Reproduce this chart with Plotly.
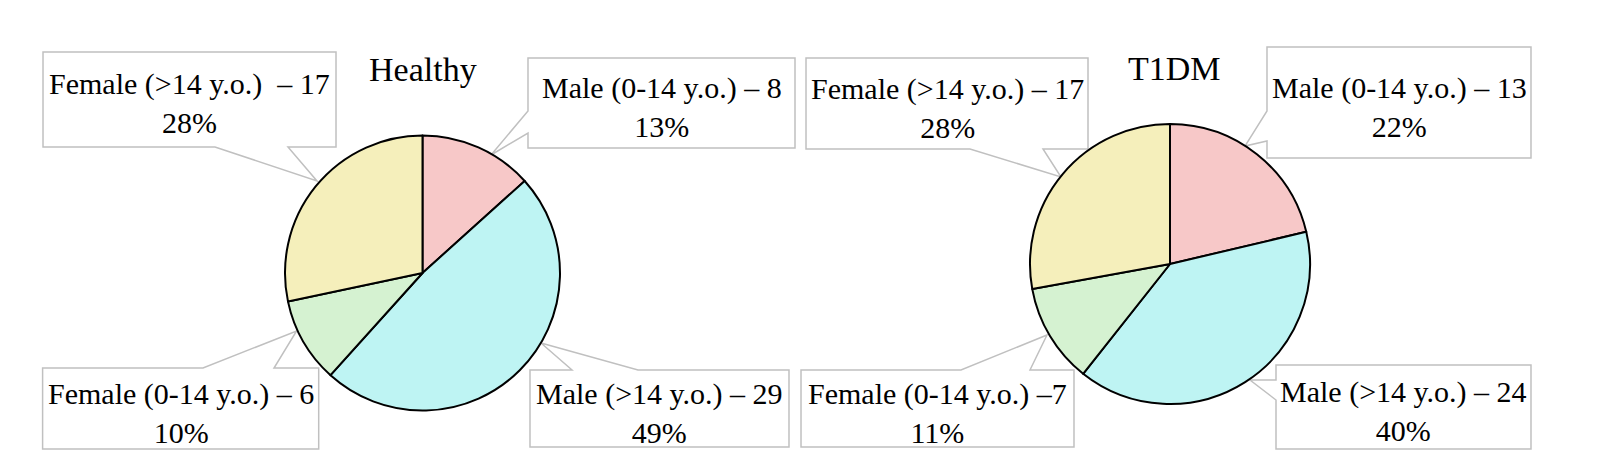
import plotly.graph_objects as go

W, H = 1597, 460
FONT = "Liberation Serif"

# data
groups = ["Healthy", "T1DM"]
categories = ["Male (0-14 y.o.)", "Male (>14 y.o.)", "Female (0-14 y.o.)", "Female (>14 y.o.)"]
healthy_counts = [8, 29, 6, 17]
t1dm_counts = [13, 24, 7, 17]
healthy_pct = ["13%", "49%", "10%", "28%"]
t1dm_pct = ["22%", "40%", "11%", "28%"]
# separators exactly as they appear in the callouts
healthy_sep = [" \u2013 ", " \u2013 ", " \u2013 ", " \u00a0\u2013 "]
t1dm_sep = [" \u2013 ", " \u2013 ", " \u2013", " \u2013 "]

colors = ["#F7C8C8", "#BEF4F3", "#D5F2D1", "#F5EFBB"]

# pie placement in pixels: (cx, cy, r)
PIES = [(414.5, 265, 137.5), (1162, 256, 140)]
TITLE_POS = [(415, 61), (1166, 60)]

# callout boxes in pixels: x0, y0, x1, y1, side, a, b, tip
CALLOUTS = [
    [
        (520, 50, 787, 140, "left", 103, 125, (483, 147)),
        (522, 362, 781, 439, "top", 564, 630, (533, 335)),
        (34.6, 360, 310.7, 441, "top", 195, 266, (288.6, 323)),
        (35, 44, 328, 139, "bottom", 207, 280, (309, 173)),
    ],
    [
        (1259, 39, 1523, 150, "left", 103, 133, (1237, 138)),
        (1268, 357, 1523, 441, "left", 372, 392, (1242, 372)),
        (793, 362, 1066, 439, "top", 953, 1022, (1039, 327)),
        (798, 50, 1080, 141, "bottom", 962, 1035, (1053, 169)),
    ],
]


def px(x, y):
    return x / W, 1 - y / H


def callout_path(x0, y0, x1, y1, side, a, b, tip):
    if side == "bottom":
        pts = [(x0, y0), (x1, y0), (x1, y1), (b, y1), tip, (a, y1), (x0, y1)]
    elif side == "top":
        pts = [(x0, y0), (a, y0), tip, (b, y0), (x1, y0), (x1, y1), (x0, y1)]
    else:
        pts = [(x0, y0), (x1, y0), (x1, y1), (x0, y1), (x0, b), tip, (x0, a)]
    coords = [px(*p) for p in pts]
    path = "M " + " L ".join(f"{u:.5f},{v:.5f}" for u, v in coords) + " Z"
    return path


fig = go.Figure()
shapes = []
annotations = []

for gi, (name, counts, pct, sep) in enumerate(zip(
        groups, [healthy_counts, t1dm_counts], [healthy_pct, t1dm_pct],
        [healthy_sep, t1dm_sep])):
    cx, cy, r = PIES[gi]
    fig.add_trace(go.Pie(
        labels=categories, values=counts, sort=False, direction="clockwise",
        rotation=0, textinfo="none", hoverinfo="label+value",
        marker=dict(colors=colors, line=dict(color="black", width=2)),
        domain=dict(x=[(cx - r) / W, (cx + r) / W],
                    y=[1 - (cy + r) / H, 1 - (cy - r) / H]),
        showlegend=False,
    ))

    tx, ty = TITLE_POS[gi]
    annotations.append(dict(
        x=tx / W, y=1 - ty / H, xref="paper", yref="paper", text=name,
        xanchor="center", yanchor="middle", showarrow=False,
        font=dict(family=FONT, size=34, color="black"),
    ))

    for ci, box in enumerate(CALLOUTS[gi]):
        x0, y0, x1, y1 = box[:4]
        shapes.append(dict(
            type="path", xref="paper", yref="paper", layer="below",
            path=callout_path(*box), fillcolor="white",
            line=dict(color="#C0C0C0", width=1.5),
        ))
        label = f"{categories[ci]}{sep[ci]}{counts[ci]}<br>{pct[ci]}"
        annotations.append(dict(
            x=(x0 + x1) / 2 / W, y=1 - ((y0 + y1) / 2 + 4) / H,
            xref="paper", yref="paper", text=label, showarrow=False,
            xanchor="center", yanchor="middle", align="center",
            font=dict(family=FONT, size=30, color="black"),
        ))

fig.update_layout(
    width=W, height=H, margin=dict(l=0, r=0, t=0, b=0),
    paper_bgcolor="white", plot_bgcolor="white",
    shapes=shapes, annotations=annotations,
)

fig.write_html("out.html")
